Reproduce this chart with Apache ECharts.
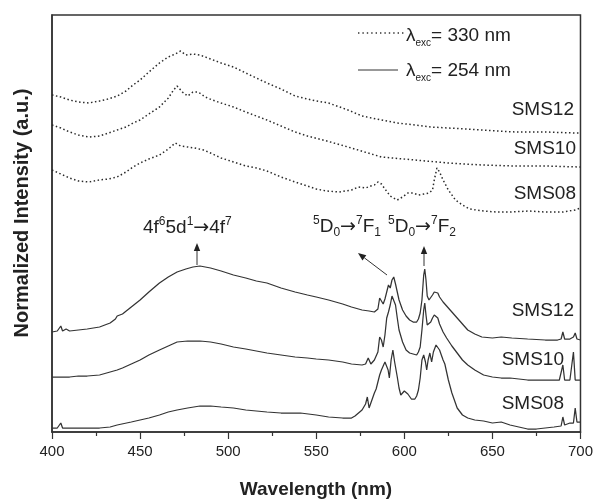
<!DOCTYPE html>
<html><head><meta charset="utf-8">
<script src="https://cdn.jsdelivr.net/npm/echarts@6/dist/echarts.min.js"></script>
<style>html,body{margin:0;padding:0;background:#fff}#c{width:596px;height:500px}</style>
</head><body><div id="c"></div>
<script>
// x tick labels
const xTicks = [400, 450, 500, 550, 600, 650, 700];
const sampleNames = ['SMS12', 'SMS10', 'SMS08'];
const legendTexts = ['330 nm', '254 nm'];

// Dotted spectra (λexc = 330 nm): [wavelength nm, offset intensity a.u.]
const dot12 = [[400,337],[405,335],[410,332],[415,330],[421,329],[427,331],[432,333],[437,336],[442,341],[446,347],[450,352],[455,360],[461,369],[466,375],[470,378],[473,381],[476,377],[480,378],[484,377],[490,373],[496,369],[503,365],[510,359],[516,354],[522,349],[530,343],[538,336],[545,333],[550,331],[557,329],[568,322],[576,316],[587,312],[596,309],[606,307],[615,305],[625,304],[635,303],[644,302],[653,301],[663,300],[680,300],[697,299],[700,299]];
const dot10 = [[400,307],[405,304],[410,300],[415,297],[421,295],[427,296],[432,299],[437,302],[442,305],[446,309],[450,312],[455,318],[461,325],[466,334],[469,342],[471,346],[474,340],[477,336],[480,340],[483,340],[487,335],[491,332],[496,329],[503,325],[510,320],[516,316],[522,312],[530,306],[538,300],[545,296],[556,291],[568,285],[587,275],[606,272],[625,269],[644,267],[663,266],[680,266],[700,265]];
const dot08 = [[400,262],[405,258],[410,254],[415,251],[421,250],[427,252],[432,253],[437,255],[442,260],[446,265],[450,269],[455,273],[461,277],[466,283],[470,289],[473,286],[477,285],[481,284],[486,282],[490,279],[496,274],[503,270],[510,266],[516,264],[522,261],[530,255],[538,250],[545,246],[550,243],[556,241],[563,240],[570,242],[574,245],[578,244],[581,246],[583,247],[585,250],[587,248],[589,243],[592,236],[596,232],[599,235],[602,239],[605,239],[608,237],[611,238],[614,239],[616,242],[617,252],[618.5,264],[620,260],[622,252],[625,242],[629,232],[633,227],[637,223],[641,222],[645,221],[652,220],[660,220],[671,221],[680,220],[690,220],[697,222],[700,224]];

// Solid spectra (λexc = 254 nm)
const sol12 = [[400,100],[403,101],[405,106],[406,101],[408,103],[410,101],[415,102],[420,103],[427,105],[433,109],[436,113],[437,116],[438,114],[440,118],[445,125],[450,132],[455,140],[461,149],[466,155],[471,160],[476,163],[480,165],[484,166],[490,164],[496,161],[503,157],[510,154],[516,151],[522,149],[530,144],[538,140],[545,137],[550,135],[557,132],[565,128],[570,125],[576,122],[580,121],[583,120],[585,123],[586,134],[587,131],[588,128],[589,133],[590,140],[591,147],[592,144],[593,152],[594,155],[595,148],[596,140],[597,132],[599,122],[601,116],[603,112],[605,110],[607,110],[608,113],[609,119],[610,132],[611,157],[611.6,163],[612.3,152],[613,136],[614,132],[615,134],[616,137],[617,140],[618,141],[619,139],[620,135],[622,130],[624,126],[627,120],[630,114],[633,108],[636,102],[640,98],[644,95],[650,94],[655,95],[661,94],[670,93],[680,92],[687,92],[689,93],[690,100],[691,93],[694,93],[696,95],[697,99],[698,93],[700,92]];
const sol10 = [[400,55],[405,55],[410,55],[415,56],[420,56],[427,57],[433,60],[437,62],[440,64],[445,68],[450,72],[455,77],[461,82],[466,86],[471,90],[477,91],[484,91],[490,90],[496,88],[503,85],[510,83],[516,81],[522,79],[530,77],[538,75],[545,74],[550,73],[557,72],[565,70],[570,68],[576,67],[578,68],[579.5,74],[581,68],[583,72],[585,80],[586,95],[587,92],[588,85],[589,97],[590,114],[591,120],[592,127],[593,136],[594,138],[595,127],[596,114],[597,102],[599,90],[601,82],[603,79],[605,78],[607,77],[608,80],[609,85],[610,102],[611,122],[611.6,129],[612.3,117],[613,107],[614,106],[615,110],[616,114],[617,117],[618,118],[619,114],[620,108],[622,100],[624,94],[627,86],[630,79],[633,72],[636,67],[640,62],[645,57],[650,55],[655,54],[660,54],[670,52],[680,52],[688,52],[689,53],[690,67],[691,52],[694,52],[695,54],[696,80],[697,52],[700,52]];
const sol08 = [[400,4],[403,4],[405,9],[406,4],[410,4],[420,4],[427,4],[433,5],[437,7],[445,10],[450,12],[455,14],[461,17],[466,20],[471,22],[477,24],[484,26],[490,26],[496,25],[503,24],[510,22],[522,20],[530,19],[541,19],[550,17],[557,15],[565,14],[570,14],[572,16],[574,19],[576,22],[577,25],[578,28],[579,35],[580,24],[581,29],[582,34],[583,39],[584,43],[585,50],[586,57],[587,62],[588,66],[589,70],[590,72],[590.8,62],[591.5,54],[592.5,72],[593.5,82],[594.5,70],[596,55],[597,44],[598,37],[599,39],[600,41],[601,41],[602,38],[604,33],[606,33],[607,36],[608,42],[609,54],[610,72],[611,77],[612,70],[612.7,62],[613.5,72],[614.5,79],[615.5,70],[616.5,80],[618,87],[619,86],[620,82],[621,77],[622,72],[623,68],[624,60],[625,52],[627,39],[630,24],[633,17],[636,14],[640,12],[645,11],[650,9],[655,10],[660,7],[665,5],[670,3],[675,3],[680,4],[685,5],[689,6],[690,15],[691,7],[694,9],[696,9],[697,24],[698,10],[700,10]];

const FONT = 'Liberation Sans, Arial, sans-serif';
const INK = '#222';

function txt(x, y, text, size, align, opts) {
  return Object.assign({
    type: 'text', x: x, y: y, silent: true,
    style: { text: text, fontSize: size, fontFamily: FONT, fill: INK,
      align: align, textAlign: align, verticalAlign: 'middle', textVerticalAlign: 'middle' }
  }, opts || {});
}
function richTxt(x, y, text, align) {
  return {
    type: 'text', x: x, y: y, silent: true,
    style: {
      text: text, fontFamily: FONT, fontSize: 19, fill: INK,
      align: align, textAlign: align, verticalAlign: 'middle', textVerticalAlign: 'middle',
      rich: {
        m: { fontSize: 19, fontFamily: FONT, fill: INK, lineHeight: 24 },
        a: { fontSize: 19, fontFamily: 'DejaVu Sans, sans-serif', fill: INK, lineHeight: 24 },
        p: { fontSize: 12, fontFamily: FONT, fill: INK, lineHeight: 12, verticalAlign: 'top' },
        b: { fontSize: 12, fontFamily: FONT, fill: INK, lineHeight: 12, verticalAlign: 'bottom' },
        s: { fontSize: 10, fontFamily: FONT, fill: INK, lineHeight: 9, verticalAlign: 'bottom' }
      }
    }
  };
}
function arrow(x1, y1, x2, y2) {
  const dx = x2 - x1, dy = y2 - y1, L = Math.sqrt(dx*dx + dy*dy);
  const ux = dx / L, uy = dy / L, hl = 8, hw = 3.2;
  const bx = x2 - ux*hl, by = y2 - uy*hl;
  return [
    { type: 'line', silent: true, shape: { x1: x1, y1: y1, x2: bx, y2: by }, style: { stroke: '#333', lineWidth: 1 } },
    { type: 'polygon', silent: true, shape: { points: [[x2, y2], [bx - uy*hw, by + ux*hw], [bx + uy*hw, by - ux*hw]] }, style: { fill: '#222' } }
  ];
}

const chart = echarts.init(document.getElementById('c'), null, { renderer: 'canvas' });

function lineSeries(data, dotted) {
  return {
    type: 'line', data: data, showSymbol: false, symbol: 'none', smooth: false, silent: true,
    lineStyle: dotted ? { color: '#2a2a2a', width: 1.5, type: [1.5, 2.5] } : { color: '#333', width: 1.25 }
  };
}

const graphic = [].concat(
  // legend
  [{ type: 'line', silent: true, shape: { x1: 358, y1: 33, x2: 404, y2: 33 }, style: { stroke: '#333', lineWidth: 1.4, lineDash: [1.4, 3] } },
   richTxt(406, 36, '{m|λ}{s|exc}{m|= ' + legendTexts[0] + '}', 'left'),
   { type: 'line', silent: true, shape: { x1: 358, y1: 70, x2: 398, y2: 70 }, style: { stroke: '#333', lineWidth: 1 } },
   richTxt(406, 71, '{m|λ}{s|exc}{m|= ' + legendTexts[1] + '}', 'left')],
  // sample labels
  [txt(574, 110, sampleNames[0], 19, 'right'), txt(576, 149, sampleNames[1], 19, 'right'), txt(576, 194, sampleNames[2], 19, 'right'),
   txt(574, 311, sampleNames[0], 19, 'right'), txt(564, 360, sampleNames[1], 19, 'right'), txt(564, 404, sampleNames[2], 19, 'right')],
  // transitions
  [richTxt(143, 228, '{m|4f}{p|6}{m|5d}{p|1}{a|→}{m|4f}{p|7}', 'left'),
   richTxt(313, 227, '{p|5}{m|D}{b|0}{a|→}{p|7}{m|F}{b|1}', 'left'),
   richTxt(388, 227, '{p|5}{m|D}{b|0}{a|→}{p|7}{m|F}{b|2}', 'left')],
  arrow(197, 265, 197, 243),
  arrow(387, 275, 358, 253),
  arrow(424, 266, 424, 246),
  // axis titles
  [txt(316, 490, 'Wavelength (nm)', 19, 'center', {}),
   txt(22, 213, 'Normalized Intensity (a.u.)', 20, 'center', { rotation: Math.PI / 2 })]
);
graphic[graphic.length - 2].style.fontWeight = 'bold';
graphic[graphic.length - 1].style.fontWeight = 'bold';

chart.setOption({
  animation: false,
  backgroundColor: '#fff',
  grid: { left: 52, right: 15, top: 15, bottom: 68, show: true, borderColor: '#333', borderWidth: 1.5, backgroundColor: 'transparent' },
  xAxis: {
    type: 'value', min: xTicks[0], max: xTicks[xTicks.length - 1], interval: 50,
    axisLine: { show: true, lineStyle: { color: '#333', width: 1.5 } },
    axisTick: { show: true, inside: false, length: 7, lineStyle: { color: '#333', width: 1.2 } },
    minorTick: { show: true, splitNumber: 2, length: 4, lineStyle: { color: '#333', width: 1.2 } },
    splitLine: { show: false },
    axisLabel: { fontSize: 15, fontFamily: FONT, color: INK, margin: 12 }
  },
  yAxis: {
    type: 'value', min: 0, max: 417,
    axisLine: { show: true, lineStyle: { color: '#333', width: 1.5 } },
    axisTick: { show: false }, axisLabel: { show: false }, splitLine: { show: false }
  },
  series: [
    lineSeries(dot12, true), lineSeries(dot10, true), lineSeries(dot08, true),
    lineSeries(sol12, false), lineSeries(sol10, false), lineSeries(sol08, false)
  ],
  graphic: graphic
});
</script></body></html>
